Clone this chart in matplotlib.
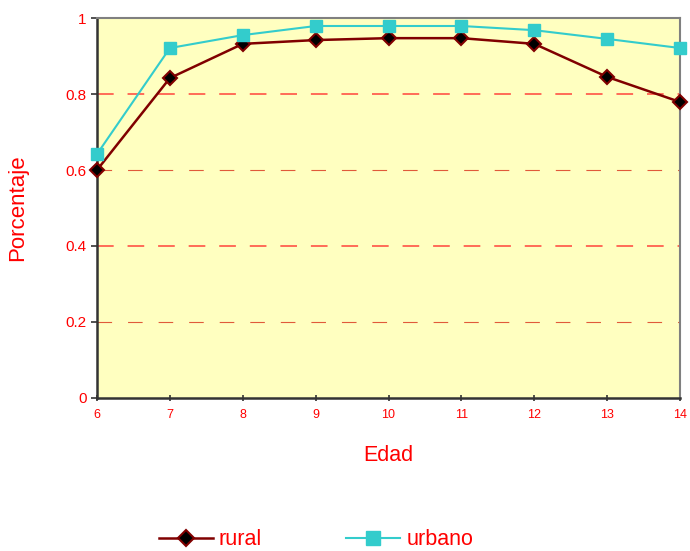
import matplotlib.pyplot as plt

plt.rcParams['font.family'] = ['Liberation Sans', 'DejaVu Sans']
plt.rcParams['lines.scale_dashes'] = False

edad = [6, 7, 8, 9, 10, 11, 12, 13, 14]
rural = [0.60, 0.842, 0.932, 0.942, 0.947, 0.947, 0.932, 0.845, 0.779]
urbano = [0.642, 0.921, 0.955, 0.979, 0.979, 0.979, 0.968, 0.945, 0.921]
yticks = [0, 0.2, 0.4, 0.6, 0.8, 1]


def plot():
    fig = plt.figure(figsize=(6.9, 5.51), dpi=100)
    ax = fig.add_axes([0.1406, 0.2777, 0.845, 0.6896])
    ax.set_facecolor('#FFFFC0')

    # dashed gridlines, heavier at 0.4 and 0.8
    for y in [0.4, 0.8]:
        ax.axhline(y, color='#FF6050', lw=1.3, ls=(0, (12, 10)), zorder=1)
    for y in [0.2, 0.6]:
        ax.axhline(y, color='#E05a3a', lw=0.8, ls=(0, (10.5, 11.5)), zorder=1)

    ax.plot(edad, rural, color='#800000', lw=1.8, marker='D', ms=7,
            mfc='black', mec='#800000', mew=1.5, label='rural', zorder=3,
            clip_on=False)
    ax.plot(edad, urbano, color='#33CCCC', lw=1.5, marker='s', ms=9,
            mfc='#33CCCC', mec='#33CCCC', label='urbano', zorder=3,
            clip_on=False)

    ax.set_xlim(6, 14)
    ax.set_ylim(0, 1)
    ax.set_xticks(edad)
    ax.set_yticks(yticks)
    ax.set_yticklabels(['0', '0.2', '0.4', '0.6', '0.8', '1'])
    ax.tick_params(axis='y', colors='#333333', labelcolor='red',
                   labelsize=11, length=4, width=1.2, direction='out')
    ax.tick_params(axis='x', colors='#333333', labelcolor='red',
                   labelsize=9, length=4, width=1.2, direction='inout', pad=6)

    for side in ['left', 'bottom']:
        ax.spines[side].set_color('#333333')
        ax.spines[side].set_linewidth(1.8)
    for side in ['top', 'right']:
        ax.spines[side].set_color('#808080')
        ax.spines[side].set_linewidth(1.5)

    ax.set_xlabel('Edad', color='red', fontsize=15.5, labelpad=17)
    ax.set_ylabel('Porcentaje', color='red', fontsize=16, labelpad=27)

    leg = fig.legend(loc='center', bbox_to_anchor=(0.458, 0.02), ncol=2,
                     frameon=False, fontsize=15.5, handlelength=2.5,
                     columnspacing=3.9, handletextpad=0.3, markerscale=1.15)
    for t in leg.get_texts():
        t.set_color('red')

    fig.savefig('out.png', dpi=100)
    return fig, ax


if __name__ == '__main__':
    plot()
